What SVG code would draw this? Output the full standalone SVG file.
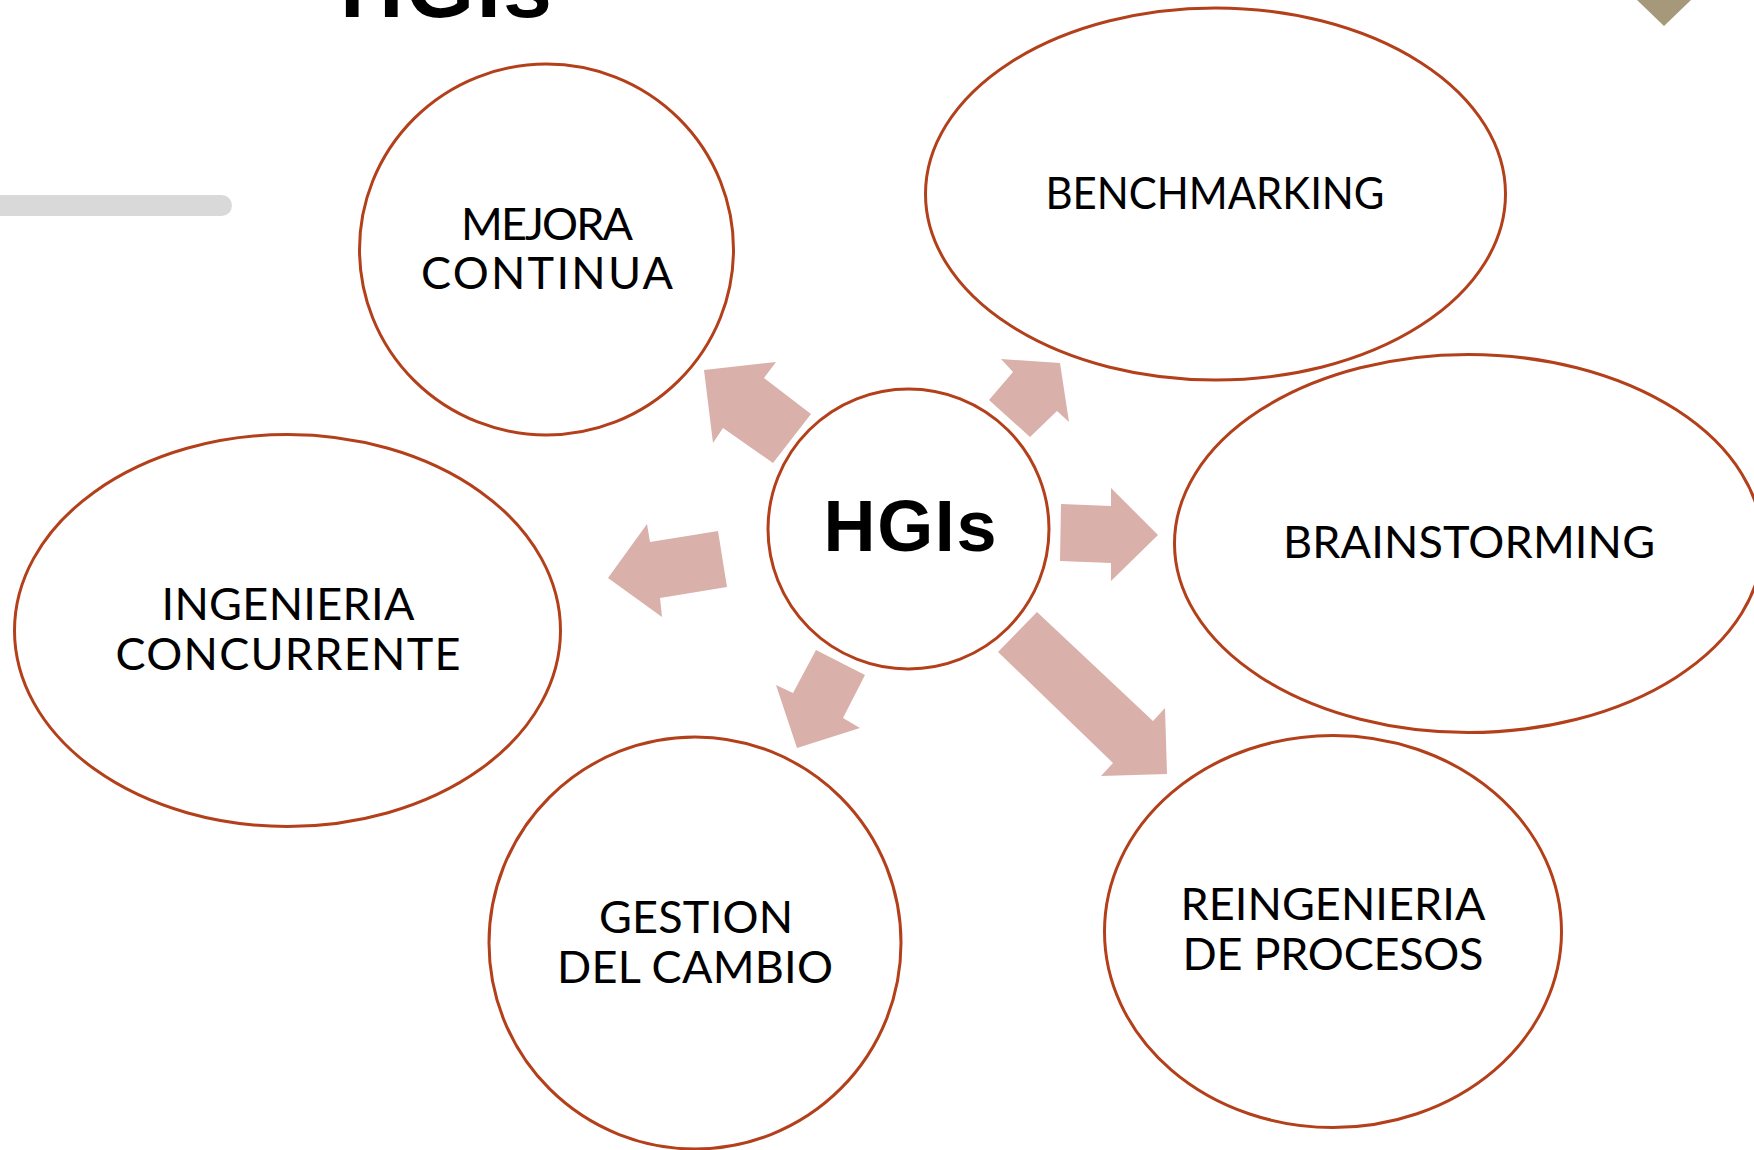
<svg xmlns="http://www.w3.org/2000/svg" width="1754" height="1150" viewBox="0 0 1754 1150">
<style>
.node{fill:#ffffff;stroke:#b3401a;stroke-width:3}
.lbl{font-family:Lato,"Open Sans","Liberation Sans",sans-serif;font-size:45px;fill:#000;text-anchor:middle}
.arrow{fill:#dab0aa}
.title{font-family:"Liberation Sans",Arial,sans-serif;font-weight:bold;fill:#000;text-anchor:middle}
</style>
<rect width="1754" height="1150" fill="#ffffff"/>
<text class="title" x="446" y="17" font-size="88" textLength="212">HGIs</text>
<polygon points="1637,0 1691,0 1664,26" fill="#a6987a"/>
<rect x="-20" y="195" width="252" height="21" rx="10.5" fill="#d9d9d9"/>
<g id="connectors">
<polygon class="arrow" points="704,370 776,362 764,378 811,414 773,463 723,428 713,443"/>
<polygon class="arrow" points="1060,363 1069,422 1057,411 1030,437 989,400 1013,372 1001,359"/>
<polygon class="arrow" points="1158,535 1111,581 1111,563 1060,561 1061,504 1111,506 1111,488"/>
<polygon class="arrow" points="1167,774 1101,776 1113,763 998,652 1037,612 1153,721 1165,708"/>
<polygon class="arrow" points="797,748 776,685 793,693 816,650 865,675 843,718 860,728"/>
<polygon class="arrow" points="608,578 647,524 650,542 718,531 727,587 660,598 662,617"/>
</g>
<g id="mejora">
<ellipse class="node" cx="546.5" cy="249.5" rx="187" ry="185.5"/>
<text class="lbl" x="547" y="240" textLength="172">MEJORA</text>
<text class="lbl" x="547" y="289" textLength="252">CONTINUA</text>
</g>
<g id="benchmarking">
<ellipse class="node" cx="1215.5" cy="194" rx="290" ry="186"/>
<text class="lbl" x="1215" y="209" font-size="43" textLength="339" lengthAdjust="spacingAndGlyphs">BENCHMARKING</text>
</g>
<g id="brainstorming">
<ellipse class="node" cx="1468.5" cy="543.5" rx="294" ry="189"/>
<text class="lbl" x="1469" y="558" textLength="372">BRAINSTORMING</text>
</g>
<g id="ingenieria">
<ellipse class="node" cx="287.5" cy="630.5" rx="273" ry="196"/>
<text class="lbl" x="288" y="620" textLength="253">INGENIERIA</text>
<text class="lbl" x="288" y="670" textLength="345">CONCURRENTE</text>
</g>
<g id="gestion">
<ellipse class="node" cx="695" cy="943" rx="206" ry="206"/>
<text class="lbl" x="696" y="933" textLength="194">GESTION</text>
<text class="lbl" x="695" y="983" textLength="276">DEL CAMBIO</text>
</g>
<g id="reingenieria">
<ellipse class="node" cx="1333" cy="931.5" rx="228.5" ry="196"/>
<text class="lbl" x="1333" y="920" textLength="305">REINGENIERIA</text>
<text class="lbl" x="1333" y="970" textLength="301">DE PROCESOS</text>
</g>
<g id="hgis">
<ellipse class="node" cx="908.5" cy="529" rx="140.5" ry="140"/>
<text x="910" y="551" font-family="'Liberation Sans',Arial,sans-serif" font-weight="bold" font-size="72" text-anchor="middle" textLength="173">HGIs</text>
</g>
</svg>
